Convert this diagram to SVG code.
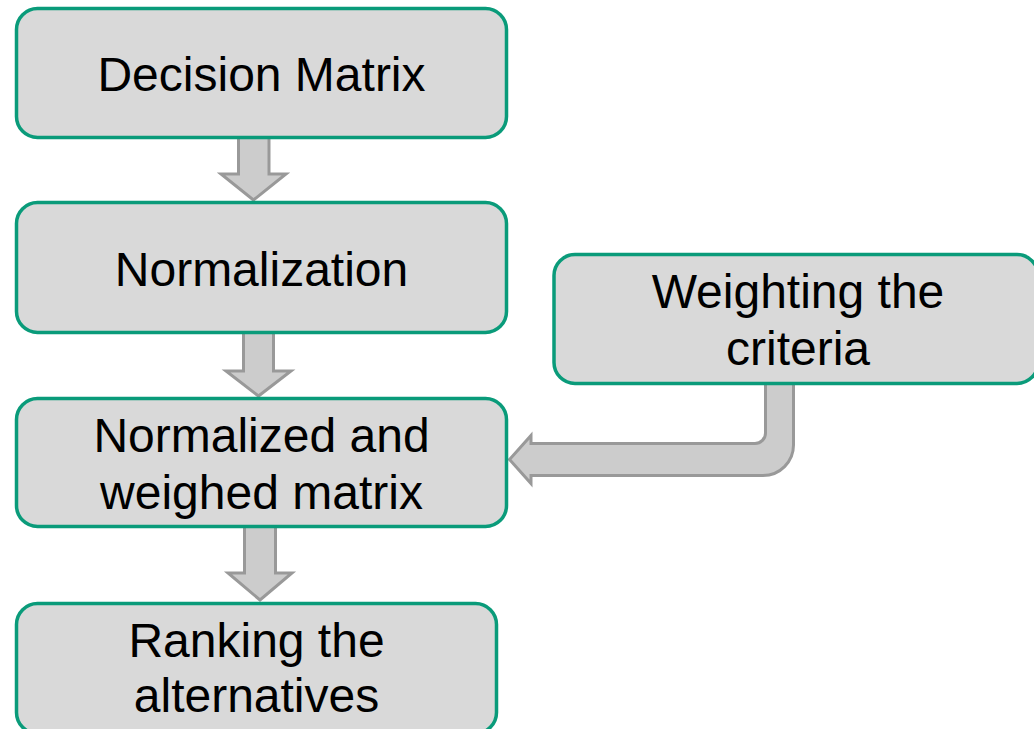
<svg xmlns="http://www.w3.org/2000/svg" width="1034" height="729" viewBox="0 0 1034 729">
<style>
.box{fill:#d9d9d9;stroke:#0a9b7a;stroke-width:3.5}
.arr{fill:#cccccc;stroke:#999999;stroke-width:3;stroke-linejoin:miter}
.lbl{font-family:"Liberation Sans",Arial,sans-serif;font-size:48px;fill:#000;text-anchor:middle}
</style>
<rect width="1034" height="729" fill="#ffffff"/>
<g id="connectors">
<path class="arr" d="M238.5,136 L238.5,174 L221,174 L253.5,200 L286,174 L269,174 L269,136 Z"/>
<path class="arr" d="M243.5,332 L243.5,371 L226,371 L258.5,396 L291,371 L273.5,371 L273.5,332 Z"/>
<path class="arr" d="M244.5,526 L244.5,573 L228,573 L260,600 L292,573 L275.5,573 L275.5,526 Z"/>
<path class="arr" d="M765.5,383 L765.5,433 A10.5,10.5 0 0 1 755,443.5 L531,443.5 L531,435.5 L509.5,459.5 L531,483.5 L531,475.5 L763,475.5 A30.5,30.5 0 0 0 793.5,445 L793.5,383 Z"/>
</g>
<g id="node-decision-matrix">
<rect class="box" x="16.5" y="8.5" width="490" height="129" rx="21" ry="21"/>
<text class="lbl" x="261.5" y="91">Decision Matrix</text>
</g>
<g id="node-normalization">
<rect class="box" x="16.5" y="202.5" width="490" height="130" rx="21" ry="21"/>
<text class="lbl" x="261.5" y="286">Normalization</text>
</g>
<g id="node-weighting">
<rect class="box" x="554" y="254.5" width="484" height="129" rx="21" ry="21"/>
<text class="lbl" x="798" y="308">Weighting the</text>
<text class="lbl" x="798" y="365">criteria</text>
</g>
<g id="node-normalized-weighed">
<rect class="box" x="16.5" y="398.5" width="490" height="128" rx="21" ry="21"/>
<text class="lbl" x="261.5" y="452">Normalized and</text>
<text class="lbl" x="261.5" y="509">weighed matrix</text>
</g>
<g id="node-ranking">
<rect class="box" x="16.5" y="603.5" width="480" height="130" rx="21" ry="21"/>
<text class="lbl" x="256.5" y="657">Ranking the</text>
<text class="lbl" x="256.5" y="712">alternatives</text>
</g>
</svg>
